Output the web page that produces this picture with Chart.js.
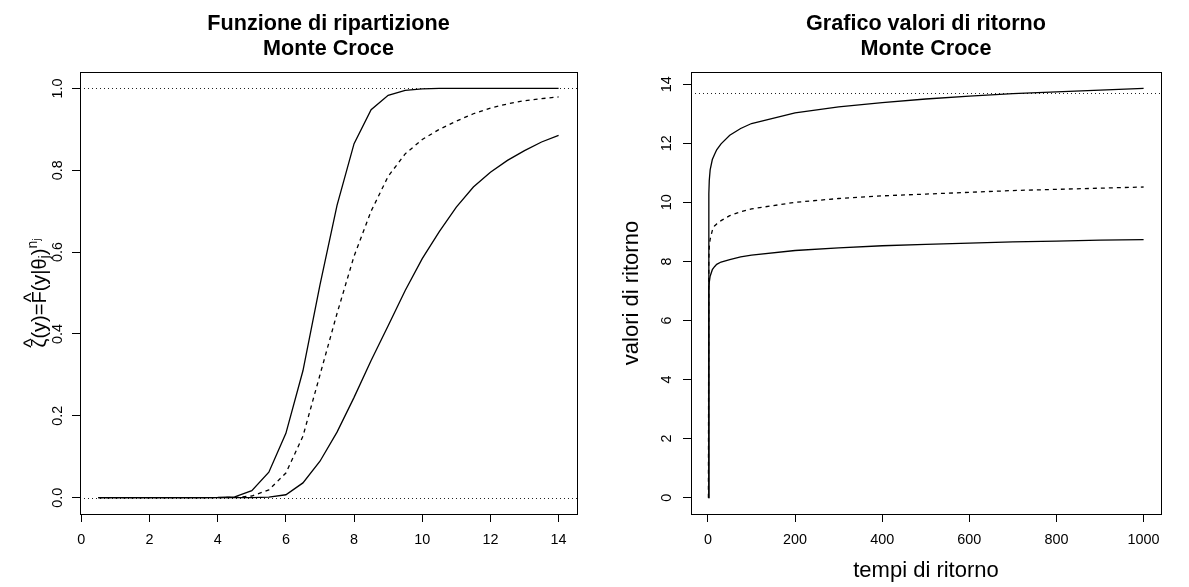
<!DOCTYPE html>
<html>
<head>
<meta charset="utf-8">
<title>Monte Croce</title>
<script src="https://cdn.jsdelivr.net/npm/chart.js@4.4.1/dist/chart.umd.min.js"></script>
<style>
  html, body { margin: 0; padding: 0; background: #fff; overflow: hidden; }
  #wrap { position: relative; width: 1189px; height: 587px; }
  canvas { position: absolute; top: 0; }
  #cdf { left: 0; }
  #ret { left: 594px; }
</style>
</head>
<body>
<div id="wrap">
  <canvas id="cdf" width="594" height="587"></canvas>
  <canvas id="ret" width="595" height="587"></canvas>
</div>
<script>
const FONT = '"Liberation Sans", Arial, Helvetica, sans-serif';

// --- funzione di ripartizione ---
const cdfX = [0.5, 1, 1.5, 2, 2.5, 3, 3.5, 4, 4.5, 5, 5.5, 6, 6.5, 7, 7.5, 8, 8.5, 9, 9.5, 10, 10.5, 11, 11.5, 12, 12.5, 13, 13.5, 14];
const cdfUpper = [0, 0, 0, 0, 0, 0, 0, 0.0005, 0.002, 0.017, 0.062, 0.157, 0.31, 0.52, 0.714, 0.865, 0.948, 0.983, 0.995, 0.999, 1, 1, 1, 1, 1, 1, 1, 1];
const cdfMedian = [0, 0, 0, 0, 0, 0, 0, 0.0001, 0.0005, 0.004, 0.019, 0.06, 0.15, 0.30, 0.45, 0.59, 0.70, 0.785, 0.84, 0.875, 0.90, 0.92, 0.938, 0.952, 0.962, 0.97, 0.975, 0.979];
const cdfLower = [0, 0, 0, 0, 0, 0, 0, 0, 0, 0, 0.001, 0.007, 0.036, 0.089, 0.16, 0.245, 0.335, 0.42, 0.506, 0.584, 0.65, 0.71, 0.759, 0.795, 0.824, 0.848, 0.869, 0.885];
const cdfRefLines = [0, 1];
const cdfXRange = [-0.04, 14.54];
const cdfYRange = [-0.04, 1.04];
const cdfXTicks = [0, 2, 4, 6, 8, 10, 12, 14];
const cdfXLabels = ['0', '2', '4', '6', '8', '10', '12', '14'];
const cdfYTicks = [0, 0.2, 0.4, 0.6, 0.8, 1];
const cdfYLabels = ['0.0', '0.2', '0.4', '0.6', '0.8', '1.0'];

// --- valori di ritorno ---
const retT = [1, 2, 3, 5, 10, 15, 20, 30, 50, 75, 100, 200, 300, 400, 500, 600, 700, 800, 900, 1000];
const retUpper = [0, 10.3, 10.75, 11.1, 11.45, 11.62, 11.78, 11.98, 12.27, 12.5, 12.67, 13.03, 13.23, 13.38, 13.5, 13.6, 13.68, 13.74, 13.8, 13.86];
const retMedian = [0, 8.1, 8.5, 8.75, 9.05, 9.2, 9.27, 9.38, 9.55, 9.68, 9.78, 10.0, 10.13, 10.22, 10.28, 10.34, 10.4, 10.44, 10.48, 10.52];
const retLower = [0, 7.1, 7.3, 7.5, 7.72, 7.82, 7.9, 7.98, 8.06, 8.15, 8.21, 8.37, 8.46, 8.53, 8.58, 8.62, 8.66, 8.69, 8.72, 8.74];
const retRefLines = [13.72];
const retXRange = [-38.96, 1039.96];
const retYRange = [-0.554, 14.414];
const retXTicks = [0, 200, 400, 600, 800, 1000];
const retXLabels = ['0', '200', '400', '600', '800', '1000'];
const retYTicks = [0, 2, 4, 6, 8, 10, 12, 14];
const retYLabels = ['0', '2', '4', '6', '8', '10', '12', '14'];

// pieces of the left y label: zeta-hat(y)=F-hat(y|theta_j)^(n_j)
const cdfYTitleParts = [
  { text: '\u03B6', hat: true },
  { text: '(y)=' },
  { text: 'F', hat: true },
  { text: '(y|\u03B8' },
  { text: 'j', scale: 0.7, rise: -0.15 },
  { text: ')' },
  { text: 'n', scale: 0.7, rise: 0.45 },
  { text: 'j', scale: 0.5, rise: 0.3 }
];

// horizontal dotted lines (abline)
const refLinesPlugin = {
  id: 'refLines',
  beforeDatasetsDraw(chart, args, opts) {
    const { ctx, chartArea: a, scales: { y } } = chart;
    ctx.save();
    ctx.strokeStyle = '#222';
    ctx.lineWidth = 1;
    ctx.setLineDash([1, 3]);
    (opts.values || []).forEach(v => {
      const py = Math.round(y.getPixelForValue(v)) + 0.5;
      ctx.beginPath();
      ctx.moveTo(a.left, py);
      ctx.lineTo(a.right, py);
      ctx.stroke();
    });
    ctx.restore();
  }
};

// box around the plot region
const framePlugin = {
  id: 'frame',
  afterDraw(chart) {
    const { ctx, chartArea: a } = chart;
    ctx.save();
    ctx.strokeStyle = '#000';
    ctx.lineWidth = 1;
    ctx.strokeRect(Math.round(a.left) + 0.5, Math.round(a.top) + 0.5,
      Math.round(a.right - a.left), Math.round(a.bottom - a.top));
    ctx.restore();
  }
};

// rotated y label with hats, sub- and superscripts
const mathLabelPlugin = {
  id: 'mathLabel',
  afterDraw(chart, args, opts) {
    if (!opts.parts) return;
    const { ctx, chartArea: a } = chart;
    const size = opts.size;
    ctx.save();
    ctx.translate(opts.x, (a.top + a.bottom) / 2);
    ctx.rotate(-Math.PI / 2);
    ctx.fillStyle = '#000';
    ctx.textBaseline = 'alphabetic';
    let total = 0;
    opts.parts.forEach(p => {
      ctx.font = (size * (p.scale || 1)) + 'px ' + FONT;
      total += ctx.measureText(p.text).width;
    });
    let cx = -total / 2;
    opts.parts.forEach(p => {
      ctx.font = (size * (p.scale || 1)) + 'px ' + FONT;
      const w = ctx.measureText(p.text).width;
      const dy = -(p.rise || 0) * size;
      ctx.textAlign = 'left';
      ctx.fillText(p.text, cx, dy);
      if (p.hat) {
        ctx.textAlign = 'center';
        ctx.fillText('^', cx + w / 2, dy - 0.36 * size);
      }
      cx += w;
    });
    ctx.restore();
  }
};

function toPoints(xs, ys) {
  return xs.map((x, i) => ({ x: x, y: ys[i] }));
}

function lineSet(points, dash) {
  return {
    data: points,
    borderColor: '#000',
    borderWidth: 1.3,
    borderDash: dash,
    pointRadius: 0,
    fill: false,
    tension: 0
  };
}

const gridOpts = { drawOnChartArea: false, drawTicks: true, tickLength: 8, color: '#000', lineWidth: 1 };

function axisX(range, ticks, labels, height, title) {
  return {
    type: 'linear',
    position: 'bottom',
    min: range[0],
    max: range[1],
    afterBuildTicks: s => { s.ticks = ticks.map(v => ({ value: v })); },
    afterFit: s => { s.height = height; },
    grid: gridOpts,
    border: { display: false },
    ticks: {
      autoSkip: false, minRotation: 0, maxRotation: 0, padding: 9.4, color: '#000',
      font: { family: FONT, size: 14.4 },
      callback: (v, i) => labels[i]
    },
    title: title || { display: false }
  };
}

function axisY(range, ticks, labels, width, tickPad, title) {
  return {
    type: 'linear',
    position: 'left',
    min: range[0],
    max: range[1],
    afterBuildTicks: s => { s.ticks = ticks.map(v => ({ value: v })); },
    afterFit: s => { s.width = width; },
    grid: gridOpts,
    border: { display: false },
    ticks: {
      autoSkip: false, minRotation: 90, maxRotation: 90, crossAlign: 'center', padding: tickPad, color: '#000',
      font: { family: FONT, size: 14.4 },
      callback: (v, i) => labels[i]
    },
    title: title || { display: false }
  };
}

function titleOpts(lines) {
  return {
    display: true,
    fullSize: false,
    text: lines,
    color: '#000',
    font: { family: FONT, size: 21.6, weight: 'bold', lineHeight: 1.16 },
    padding: { top: 11.5, bottom: 10.4 }
  };
}

const baseOpts = { responsive: false, animation: false, devicePixelRatio: 1 };

// grafico di sinistra
new Chart(document.getElementById('cdf'), {
  type: 'line',
  data: {
    datasets: [
      lineSet(toPoints(cdfX, cdfUpper), []),
      lineSet(toPoints(cdfX, cdfMedian), [4, 4]),
      lineSet(toPoints(cdfX, cdfLower), [])
    ]
  },
  options: Object.assign({}, baseOpts, {
    layout: { padding: { left: 0, right: 17, top: 0, bottom: 0 } },
    plugins: {
      legend: { display: false },
      tooltip: { enabled: false },
      title: titleOpts(['Funzione di ripartizione', 'Monte Croce']),
      refLines: { values: cdfRefLines },
      mathLabel: { parts: cdfYTitleParts, size: 20, x: 45.5 }
    },
    scales: {
      x: axisX(cdfXRange, cdfXTicks, cdfXLabels, 73),
      y: axisY(cdfYRange, cdfYTicks, cdfYLabels, 80, 4)
    }
  }),
  plugins: [refLinesPlugin, framePlugin, mathLabelPlugin]
});

// grafico di destra
new Chart(document.getElementById('ret'), {
  type: 'line',
  data: {
    datasets: [
      lineSet(toPoints(retT, retUpper), []),
      lineSet(toPoints(retT, retMedian), [4, 4]),
      lineSet(toPoints(retT, retLower), [])
    ]
  },
  options: Object.assign({}, baseOpts, {
    layout: { padding: { left: 0, right: 28, top: 0, bottom: 0 } },
    plugins: {
      legend: { display: false },
      tooltip: { enabled: false },
      title: titleOpts(['Grafico valori di ritorno', 'Monte Croce']),
      refLines: { values: retRefLines }
    },
    scales: {
      x: axisX(retXRange, retXTicks, retXLabels, 73, {
        display: true,
        text: 'tempi di ritorno',
        color: '#000',
        font: { family: FONT, size: 22 },
        padding: { top: 0, bottom: 3.3 }
      }),
      y: axisY(retYRange, retYTicks, retYLabels, 97, 7.5, {
        display: true,
        text: 'valori di ritorno',
        color: '#000',
        font: { family: FONT, size: 22 },
        padding: { top: 25, bottom: 0 }
      })
    }
  }),
  plugins: [refLinesPlugin, framePlugin]
});
</script>
</body>
</html>
